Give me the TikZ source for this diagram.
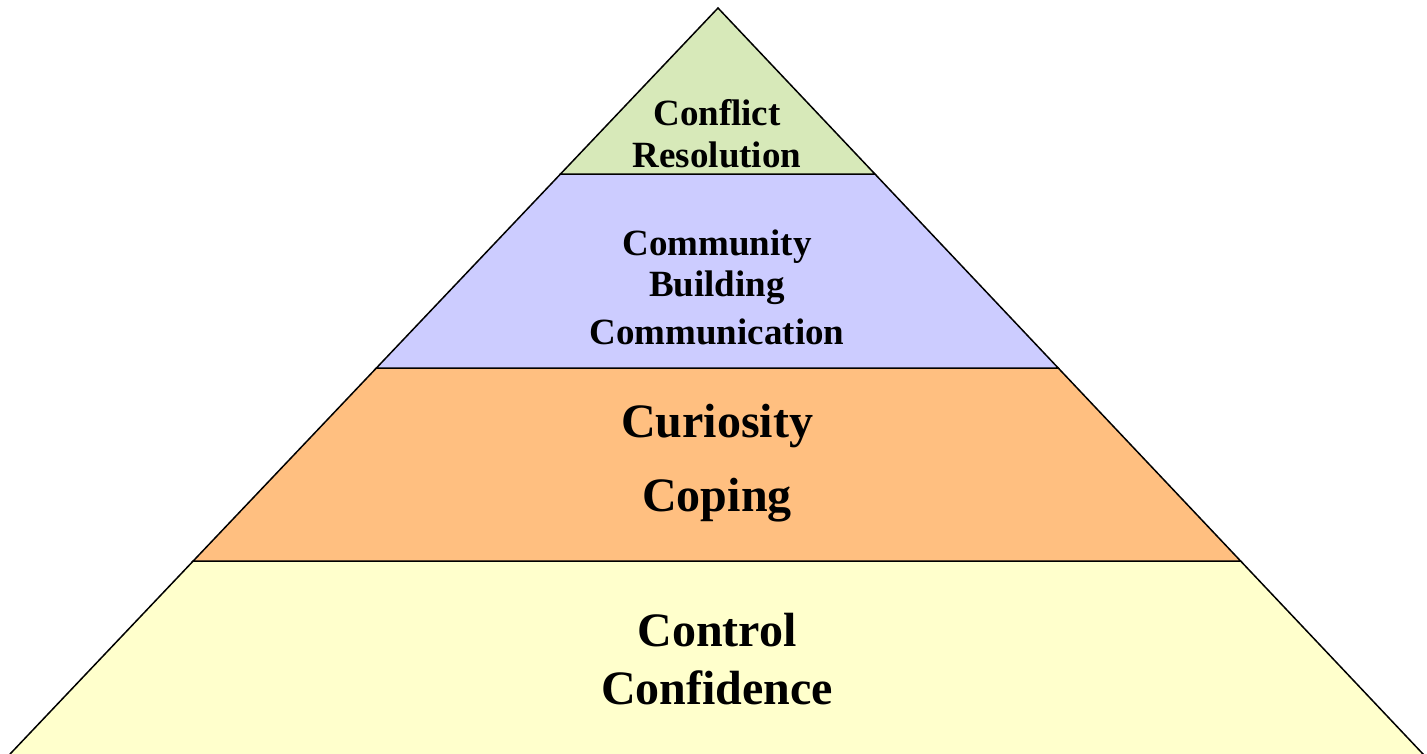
\documentclass[tikz,border=0pt]{standalone}
\usepackage{fontspec}
\setmainfont{Liberation Serif}
\begin{document}
\begin{tikzpicture}[x=1pt,y=-1pt,
  tier/.style={draw=black,line width=1.5pt,line join=miter},
  small/.style={font=\fontsize{37}{44}\selectfont\bfseries,anchor=base,inner sep=0pt},
  big/.style={font=\fontsize{48}{56}\selectfont\bfseries,anchor=base,inner sep=0pt}]
\definecolor{topgreen}{HTML}{D7E9B9}
\definecolor{lilac}{HTML}{CCCCFF}
\definecolor{peach}{HTML}{FFBF80}
\definecolor{cream}{HTML}{FFFFCC}
\useasboundingbox (0,0) rectangle (1427,753);
\begin{scope}
\clip (0,0) rectangle (1427,753);
% pyramid tiers, bottom to top; the base runs past the lower edge
\filldraw[tier,fill=cream]     (193.2,561) -- (1240.6,561) -- (1438.1,770) -- (-5.1,770) -- cycle;
\filldraw[tier,fill=peach]     (376.4,368) -- (1058.2,368) -- (1240.6,561) -- (193.2,561) -- cycle;
\filldraw[tier,fill=lilac]     (560.5,174) -- (874.9,174) -- (1058.2,368) -- (376.4,368) -- cycle;
\filldraw[tier,fill=topgreen]  (718,8) -- (874.9,174) -- (560.5,174) -- cycle;
\end{scope}
% labels
\node[small] (conflict)   at (717,125) {Conflict};
\node[small] (resolution) at (717,167) {Resolution};
\node[small] (community)  at (717,255) {Community};
\node[small] (building)   at (717,296) {Building};
\node[small] (communic)   at (717,344) {Communication};
\node[big]   (curiosity)  at (717,437) {Curiosity};
\node[big]   (coping)     at (717,511) {Coping};
\node[big]   (control)    at (717,646) {Control};
\node[big]   (confidence) at (717,704) {Confidence};
\end{tikzpicture}
\end{document}
